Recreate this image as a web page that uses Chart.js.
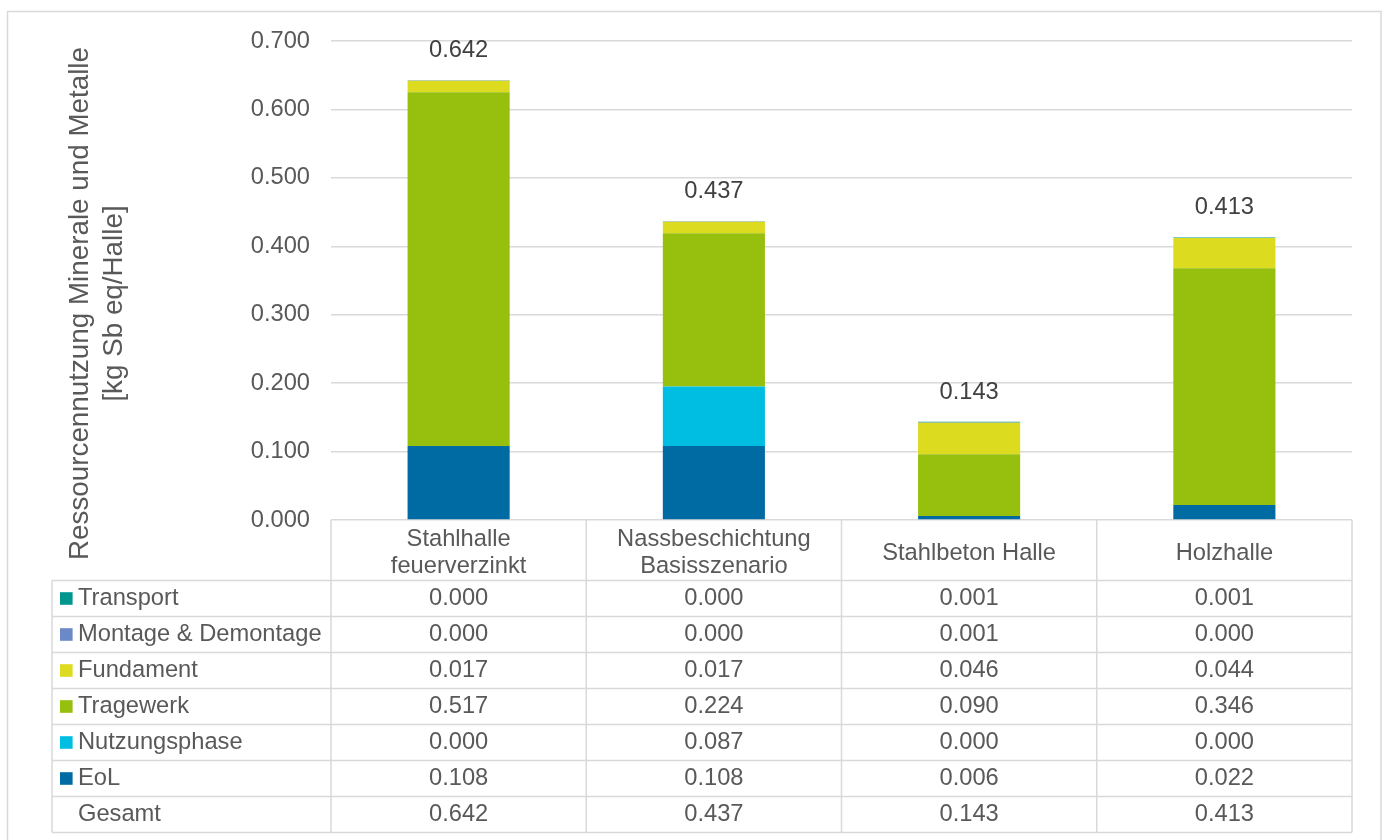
<!DOCTYPE html>
<html>
<head>
<meta charset="utf-8">
<title>Ressourcennutzung Minerale und Metalle</title>
<script src="https://cdn.jsdelivr.net/npm/chart.js@4/dist/chart.umd.min.js"></script>
<style>
  html, body { margin: 0; padding: 0; background: #fff; }
  canvas { display: block; }
</style>
</head>
<body>
<canvas id="myChart" width="1384" height="840"></canvas>
<script>
'use strict';

// ── Data ──────────────────────────────────────────────────────────────────────
const categories = [
  ['Stahlhalle', 'feuerverzinkt'],
  ['Nassbeschichtung', 'Basisszenario'],
  ['Stahlbeton Halle'],
  ['Holzhalle'],
];

const transport = [0.0004, 0.0004, 0.0008, 0.0008];
const montage   = [0.0002, 0.0002, 0.0006, 0.0002];
const fundament = [0.017, 0.017, 0.046, 0.044];
const tragewerk = [0.517, 0.224, 0.090, 0.346];
const nutzung   = [0.000, 0.087, 0.000, 0.000];
const eol       = [0.108, 0.108, 0.006, 0.022];
const gesamt    = [0.642, 0.437, 0.143, 0.413];

const yTicks = [0, 0.1, 0.2, 0.3, 0.4, 0.5, 0.6, 0.7];

const axisTitle = ['Ressourcennutzung Minerale und Metalle', '[kg Sb eq/Halle]'];

// ── Look ──────────────────────────────────────────────────────────────────────
const FONT      = '"Liberation Sans", Arial, sans-serif';
const TEXT_GREY = '#595959';
const LINE_GREY = '#d9d9d9';

// stack order bottom → top
let series = [
  { label: 'EoL',                 data: eol,       color: '#006aa3' },
  { label: 'Nutzungsphase',       data: nutzung,   color: '#00bee2' },
  { label: 'Tragewerk',           data: tragewerk, color: '#97bf0d' },
  { label: 'Fundament',           data: fundament, color: '#dddb1f' },
  { label: 'Montage & Demontage', data: montage,   color: '#6b89c6' },
  { label: 'Transport',           data: transport, color: '#00968f' },
];

// ── Table + labels plugin ─────────────────────────────────────────────────────
const tablePlugin = {
  id: 'dataTable',
  afterDraw(chart) {
    let ctx = chart.ctx;
    let area = chart.chartArea;
    let x = chart.scales.x;
    let y = chart.scales.y;
    let colW = (area.right - area.left) / categories.length;

    let headTop = area.bottom;
    let rowTop = 580.5;
    let rowH = 36;
    let rows = series.slice().reverse();
    let tableBottom = rowTop + rowH * (rows.length + 1);
    let legendLeft = 52;

    ctx.save();

    // outer frame
    ctx.strokeStyle = LINE_GREY;
    ctx.lineWidth = 1.5;
    ctx.strokeRect(7.5, 11.5, 1373.5, 840);

    // grid of the table
    ctx.beginPath();
    for (let i = 0; i <= categories.length; i++) {
      let cx = area.left + i * colW;
      ctx.moveTo(cx, headTop);
      ctx.lineTo(cx, tableBottom);
    }
    ctx.moveTo(legendLeft, rowTop);
    ctx.lineTo(legendLeft, tableBottom);
    for (let r = 0; r <= rows.length + 1; r++) {
      let ry = rowTop + r * rowH;
      ctx.moveTo(legendLeft, ry);
      ctx.lineTo(area.right, ry);
    }
    ctx.stroke();

    // category headers
    ctx.fillStyle = TEXT_GREY;
    ctx.font = '23.7px ' + FONT;
    ctx.textAlign = 'center';
    ctx.textBaseline = 'middle';
    categories.forEach((lines, i) => {
      let cx = x.getPixelForValue(i);
      let mid = (headTop + rowTop) / 2 + 3;
      let lh = 27;
      lines.forEach((t, k) => {
        ctx.fillText(t, cx, mid + (k - (lines.length - 1) / 2) * lh);
      });
    });

    // rows with legend keys
    rows.forEach((s, r) => {
      let cy = rowTop + r * rowH + rowH / 2;
      ctx.fillStyle = s.color;
      ctx.fillRect(60, cy - 6.3, 12.6, 12.6);
      ctx.fillStyle = TEXT_GREY;
      ctx.textAlign = 'left';
      ctx.fillText(s.label, 78, cy);
      ctx.textAlign = 'center';
      s.data.forEach((v, i) => {
        ctx.fillText(v.toFixed(3), x.getPixelForValue(i), cy);
      });
    });

    let gy = rowTop + rows.length * rowH + rowH / 2;
    ctx.textAlign = 'left';
    ctx.fillText('Gesamt', 78, gy);
    ctx.textAlign = 'center';
    gesamt.forEach((v, i) => {
      ctx.fillText(v.toFixed(3), x.getPixelForValue(i), gy);
    });

    // totals above bars
    ctx.fillStyle = '#404040';
    gesamt.forEach((v, i) => {
      ctx.fillText(v.toFixed(3), x.getPixelForValue(i), y.getPixelForValue(v) - 30);
    });

    // rotated axis title
    ctx.fillStyle = TEXT_GREY;
    ctx.font = '27.8px ' + FONT;
    ctx.textBaseline = 'alphabetic';
    ctx.translate(0, 303.5);
    ctx.rotate(-Math.PI / 2);
    ctx.fillText(axisTitle[0], 0, 88.3);
    ctx.fillText(axisTitle[1], 0, 121.7);

    ctx.restore();
  },
};

// ── Chart ─────────────────────────────────────────────────────────────────────
let chartCanvas = document.getElementById('myChart');

let chartInstance = new Chart(chartCanvas, {
  type: 'bar',
  data: {
    labels: categories.map(c => c.join(' ')),
    datasets: series.map(s => ({
      label: s.label,
      data: s.data,
      backgroundColor: s.color,
      borderWidth: 0,
      categoryPercentage: 1,
      barPercentage: 0.4,
    })),
  },
  options: {
    responsive: false,
    devicePixelRatio: 1,
    animation: false,
    layout: { padding: { left: 0, top: 41, right: 32, bottom: 320 } },
    plugins: {
      legend: { display: false },
      tooltip: { enabled: false },
    },
    scales: {
      x: {
        stacked: true,
        display: false,
      },
      y: {
        stacked: true,
        min: 0,
        max: 0.7,
        afterFit(scale) { scale.width = 331; },
        afterBuildTicks(scale) { scale.ticks = yTicks.map(v => ({ value: v })); },
        border: { display: false },
        grid: { color: LINE_GREY, lineWidth: 1.5, drawTicks: false },
        ticks: {
          padding: 21,
          color: TEXT_GREY,
          font: { family: FONT, size: 23.7 },
          callback: v => Number(v).toFixed(3),
        },
      },
    },
  },
  plugins: [tablePlugin],
});
</script>
</body>
</html>
